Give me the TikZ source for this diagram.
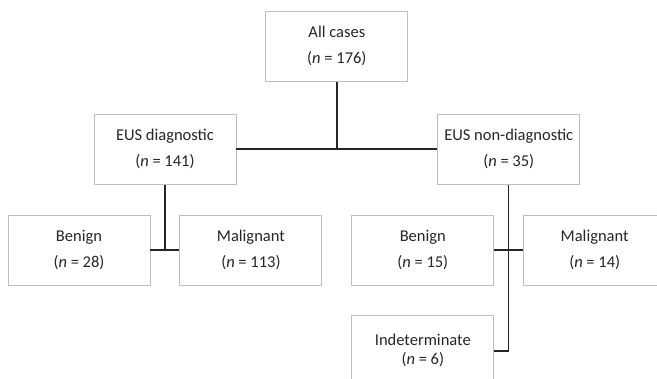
\documentclass[tikz,border=0pt]{standalone}
\usepackage{fontspec}
\setmainfont{Carlito}
\usepackage{tikz}
\usetikzlibrary{positioning,calc}
\usepackage{xcolor}
\definecolor{boxgray}{HTML}{BFBFBF}
\definecolor{ink}{HTML}{262626}

\begin{document}
\begin{tikzpicture}[node distance=30pt and 29pt,
  box/.style={draw=boxgray,line width=0.9pt,minimum width=142pt,minimum height=70pt,inner sep=0pt,
    align=center,text=ink,font=\fontsize{16.5}{26}\selectfont},
  link/.style={draw=ink,line width=1.3pt}]
\clip (0,0) rectangle (657pt,-379pt);
\node[box] (ben1) at (79pt,-250pt) {Benign\\(\textit{n} = 28)};
\node[box] (mal1) [right=of ben1] {Malignant\\(\textit{n} = 113)};
\node[box] (ben2) [right=of mal1] {Benign\\(\textit{n} = 15)};
\node[box] (mal2) [right=of ben2] {Malignant\\(\textit{n} = 14)};
\node[box,font=\fontsize{16.5}{19}\selectfont] (indet) [below=of ben2] {Indeterminate\\(\textit{n} = 6)};
\coordinate (dmid) at ($(ben1.north)!.5!(mal1.north)$);
\coordinate (nmid) at ($(ben2.north)!.5!(mal2.north)$);
\node[box] (diag) [above=of dmid] {EUS diagnostic\\(\textit{n} = 141)};
\node[box] (nondiag) [above=of nmid] {EUS non-diagnostic\\(\textit{n} = 35)};
\coordinate (amid) at ($(diag.north)!.5!(nondiag.north)$);
\node[box] (all) [above=32pt of amid] {All cases\\(\textit{n} = 176)};
\draw[link] (diag.east) -- (nondiag.west);
\draw[link] (all.south) -- (all.south |- diag.east);
\draw[link] (ben1.east) -- (mal1.west);
\draw[link] (diag.south) -- (diag.south |- ben1.east);
\draw[link] (ben2.east) -- (mal2.west);
\draw[link] (nondiag.south) |- (indet.east);
\end{tikzpicture}
\end{document}
